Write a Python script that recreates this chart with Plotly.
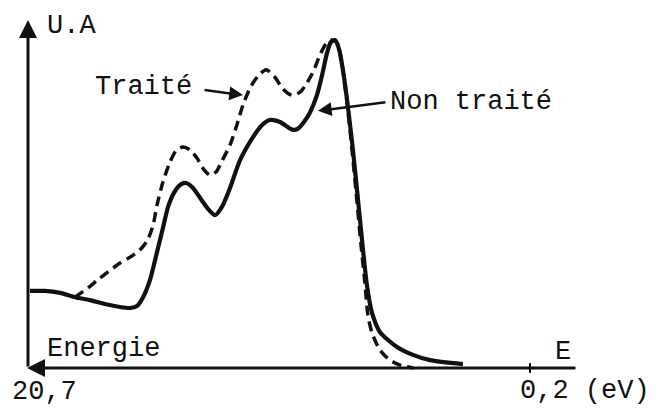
import plotly.graph_objects as go

# Photoemission spectra: energy (eV, decreasing to the right) vs intensity (arbitrary units)
energy_untreated = [20.62, 20.01, 19.39, 18.78, 18.17, 17.56, 16.94, 16.53, 16.25, 16.00,
                    15.72, 15.43, 15.19, 14.98, 14.74, 14.49, 14.25, 13.96, 13.64, 13.31,
                    13.06, 12.78, 12.45, 12.04, 11.51, 11.14, 10.82, 10.41, 10.12, 9.88,
                    9.67, 9.43, 9.18, 8.90, 8.69, 8.49, 8.33, 8.16, 8.00, 7.84,
                    7.67, 7.43, 7.14, 6.86, 6.65, 6.33, 5.63, 4.98, 4.28, 2.94]
intensity_untreated = [23.5, 23.5, 22.9, 21.6, 20.7, 19.5, 18.6, 18.3, 18.9, 21.6,
                       26.8, 35.4, 42.7, 49.1, 53.4, 55.8, 56.4, 54.9, 51.5, 48.2,
                       46.6, 49.1, 54.9, 63.4, 70.4, 74.1, 75.6, 75.0, 73.6, 72.6,
                       73.0, 75.0, 78.0, 83.2, 89.3, 96.0, 99.4, 100.0, 97.3, 90.9,
                       81.7, 66.5, 45.1, 25.3, 16.8, 11.0, 6.4, 4.0, 2.4, 1.2]

energy_treated = [18.78, 18.25, 17.76, 16.94, 16.53, 16.13, 15.84, 15.60, 15.43, 15.19,
                  14.90, 14.66, 14.37, 14.08, 13.80, 13.51, 13.27, 13.02, 12.78, 12.45,
                  12.17, 11.92, 11.63, 11.31, 10.98, 10.65, 10.29, 9.92, 9.59, 9.31,
                  9.02, 8.78, 8.53, 8.29, 8.08, 7.92, 7.76, 7.55, 7.31, 7.10,
                  6.94, 6.82, 6.65, 6.33, 5.92, 5.51, 4.98]
intensity_treated = [21.6, 24.4, 27.4, 32.0, 33.8, 36.0, 38.7, 43.3, 49.7, 56.7,
                     62.8, 66.2, 67.4, 66.5, 64.0, 60.4, 58.8, 59.8, 63.1, 68.0,
                     74.1, 80.2, 85.4, 89.0, 90.9, 89.0, 85.1, 83.2, 84.1, 86.9,
                     90.9, 95.4, 98.8, 100.0, 99.1, 94.8, 86.3, 72.6, 54.3, 37.5,
                     25.9, 16.2, 10.7, 5.5, 2.4, 0.9, 0.0]

e_start, e_end = 20.7, 0.2
tick_labels = ["20,7", "0,2 (eV)"]

FONT = dict(family="Liberation Mono, Courier New, monospace", size=27, color="#111")
INK = "#111"

fig = go.Figure()
fig.add_trace(go.Scatter(
    x=energy_untreated, y=intensity_untreated, mode="lines",
    line=dict(color=INK, width=4.2, shape="spline", smoothing=0.7),
    name="Non traité"))
fig.add_trace(go.Scatter(
    x=energy_treated, y=intensity_treated, mode="lines",
    line=dict(color=INK, width=3.5, dash="10px,6px", shape="spline", smoothing=0.7),
    name="Traité"))

ann = []
# axes with arrow heads
ann.append(dict(x=e_start, y=106.1, ax=e_start, ay=0, axref="x", ayref="y",
                xref="x", yref="y", text="", showarrow=True, arrowhead=2,
                arrowsize=1.2, arrowwidth=3, arrowcolor=INK))
ann.append(dict(x=20.74, y=0, ax=-1.72, ay=0, axref="x", ayref="y",
                xref="x", yref="y", text="", showarrow=True, arrowhead=2,
                arrowsize=1.2, arrowwidth=3, arrowcolor=INK))
# curve labels with pointers
ann.append(dict(x=11.92, y=83.2, ax=13.55, ay=84.8, axref="x", ayref="y",
                xref="x", yref="y", text="", showarrow=True, arrowhead=2,
                arrowsize=1.1, arrowwidth=2.5, arrowcolor=INK))
ann.append(dict(x=8.86, y=78.4, ax=6.04, ay=81.1, axref="x", ayref="y",
                xref="x", yref="y", text="", showarrow=True, arrowhead=2,
                arrowsize=1.1, arrowwidth=2.5, arrowcolor=INK))

def label(text, x, y):
    return dict(x=x, y=y, xref="x", yref="y", text=text, showarrow=False,
                xanchor="left", yanchor="middle", font=FONT)

ann += [
    label("U.A", 20.0, 104.2),
    label("Traité", 18.05, 85.7),
    label("Non traité", 6.0, 81.1),
    label("Energie", 20.0, 5.8),
    label("E", -0.74, 5.0),
    label(tick_labels[0], 21.45, -7.3),
    label(tick_labels[1], 0.68, -7.0),
]

fig.update_layout(
    width=661, height=416, margin=dict(l=0, r=0, t=0, b=0),
    paper_bgcolor="white", plot_bgcolor="white", showlegend=False,
    xaxis=dict(visible=False, range=[21.843, -5.15]),
    yaxis=dict(visible=False, range=[-14.63, 112.2]),
    annotations=ann,
    shapes=[dict(type="line", xref="x", yref="y", x0=e_end, x1=e_end, y0=-1.5, y1=1.5,
                 line=dict(color=INK, width=2))],
)

fig.write_html("out.html")
